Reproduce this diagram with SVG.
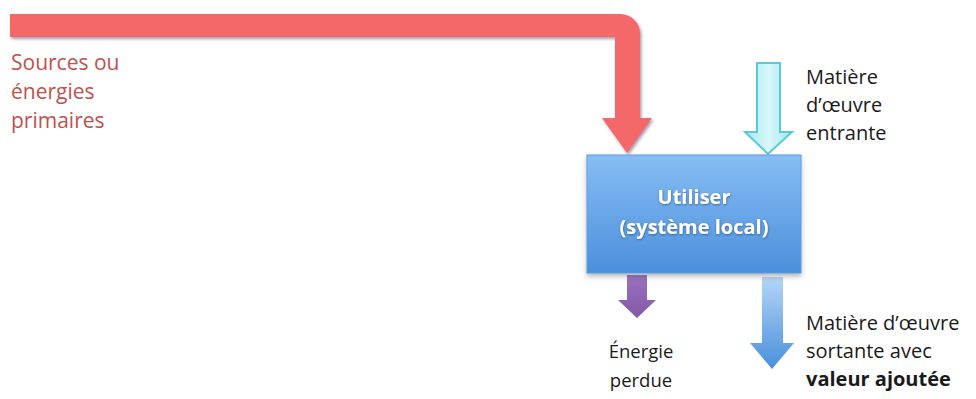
<svg xmlns="http://www.w3.org/2000/svg" width="976" height="399" viewBox="0 0 976 399">
<defs>
<style>
text{font-family:"Open Sans","Liberation Sans",sans-serif;font-size:20px;}
.red{fill:#c0504d;font-size:21px;}
.blk{fill:#1a1a1a;}
.sm{font-size:18.5px;}
.box{fill:#ffffff;font-weight:bold;font-size:20px;text-anchor:middle;}
.b{font-weight:bold;}
</style>
<linearGradient id="gBox" x1="0" y1="0" x2="0" y2="1">
<stop offset="0" stop-color="#86bef4"/>
<stop offset="1" stop-color="#4b8fdc"/>
</linearGradient>
<linearGradient id="gCyan" x1="0" y1="0" x2="1" y2="0">
<stop offset="0" stop-color="#9fe6ef"/>
<stop offset="0.5" stop-color="#d8f8fb"/>
<stop offset="1" stop-color="#9fe6ef"/>
</linearGradient>
<linearGradient id="gOut" x1="0" y1="0" x2="0" y2="1">
<stop offset="0" stop-color="#b3d6f6"/>
<stop offset="1" stop-color="#4a8fdc"/>
</linearGradient>
<linearGradient id="gPur" x1="0" y1="0" x2="0" y2="1">
<stop offset="0" stop-color="#9a72bd"/>
<stop offset="1" stop-color="#8359a8"/>
</linearGradient>
<filter id="sh" x="-10%" y="-10%" width="130%" height="130%">
<feDropShadow dx="1.5" dy="2" stdDeviation="1.5" flood-color="#5a4a6a" flood-opacity="0.55"/>
</filter>
<filter id="shb" x="-10%" y="-10%" width="130%" height="130%">
<feDropShadow dx="0" dy="3" stdDeviation="2.5" flood-color="#333" flood-opacity="0.35"/>
</filter>
<filter id="ts" x="-10%" y="-10%" width="120%" height="130%">
<feDropShadow dx="0.5" dy="1" stdDeviation="0.8" flood-color="#1a3a6a" flood-opacity="0.6"/>
</filter>
</defs>

<g id="connectors">
<path id="arrow-sources" d="M10 14 H620 A20 20 0 0 1 640 34 V118 H652 L627 153 L602 118 H615 V37 H10 Z" fill="#f4676b" filter="url(#sh)"/>
<path id="arrow-entrante" d="M757 63 H780 V132 H792 L768 154 L745 132 H757 Z" fill="url(#gCyan)" stroke="#5cc9d5" stroke-width="2"/>
<path id="arrow-perdue" d="M627 275 H647 V300 H656 L637 318 L618 300 H627 Z" fill="url(#gPur)"/>
<path id="arrow-sortante" d="M762 277 H783 V343 H794 L772 369 L750 343 H762 Z" fill="url(#gOut)"/>
</g>

<g id="node-utiliser">
<rect x="587" y="155" width="214" height="118" fill="url(#gBox)" stroke="#5b9be2" stroke-width="1" filter="url(#shb)"/>
<g filter="url(#ts)">
<text class="box" x="694" y="204">Utiliser</text>
<text class="box" x="694" y="234">(système local)</text>
</g>
</g>

<g id="label-sources">
<text class="red" x="11" y="70">Sources ou</text>
<text class="red" x="11" y="99">énergies</text>
<text class="red" x="11" y="128">primaires</text>
</g>

<g id="label-entrante">
<text class="blk" x="806" y="84">Matière</text>
<text class="blk" x="806" y="112">d’œuvre</text>
<text class="blk" x="806" y="140">entrante</text>
</g>

<g id="label-perdue">
<text class="blk sm" x="641" y="358" text-anchor="middle">Énergie</text>
<text class="blk sm" x="641" y="387" text-anchor="middle">perdue</text>
</g>

<g id="label-sortante">
<text class="blk" x="806" y="330">Matière d’œuvre</text>
<text class="blk" x="806" y="358">sortante avec</text>
<text class="blk b" x="806" y="386">valeur ajoutée</text>
</g>
</svg>
